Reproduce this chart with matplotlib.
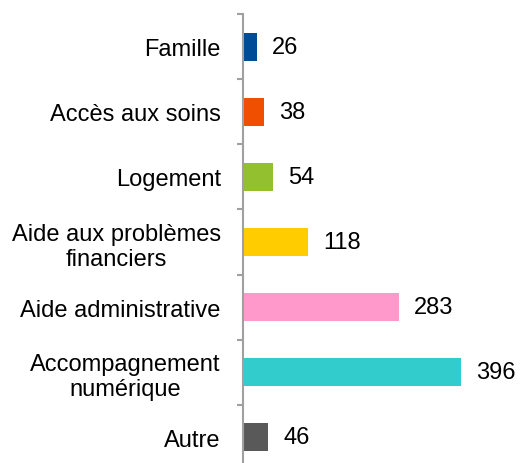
import numpy as np
import matplotlib
matplotlib.use('Agg')
import matplotlib.pyplot as plt

categories = ['Famille', 'Accès aux soins', 'Logement', 'Aide aux problèmes\nfinanciers',
              'Aide administrative', 'Accompagnement\nnumérique', 'Autre']
values = [26, 38, 54, 118, 283, 396, 46]
colors = ['#004C97', '#F04E00', '#93C02F', '#FFCC00', '#FF99CC', '#33CCCC', '#595959']

plt.rcParams['font.family'] = ['Liberation Sans', 'DejaVu Sans']

fig = plt.figure(figsize=(5.2, 4.64), dpi=100)
ax = fig.add_axes([243 / 520, -7 / 464, 277 / 520, 456 / 464])

y = np.arange(len(categories))
ax.barh(y, values, height=0.43, color=colors)
ax.set_ylim(len(categories) - 0.5, -0.5)
ax.set_xlim(0, 503)

for yi, v in zip(y, values):
    ax.text(v + 15 / 0.55, yi, str(v), va='center', ha='left', fontsize=17)

ax.set_yticks(y)
ax.set_yticklabels(categories, fontsize=17)
for t in ax.get_yticklabels():
    t.set_multialignment('center')
    t.set_linespacing(1.2)
ax.tick_params(axis='y', which='major', length=0, pad=16)
ax.set_yticks(np.arange(-0.5, len(categories)), minor=True)
ax.tick_params(axis='y', which='minor', length=4.5, width=1.5, color='#A0A0A0')
ax.set_xticks([])

for s in ['top', 'right', 'bottom']:
    ax.spines[s].set_visible(False)
ax.spines['left'].set_color('#A0A0A0')
ax.spines['left'].set_linewidth(1.5)

fig.savefig('out.png', dpi=100)
